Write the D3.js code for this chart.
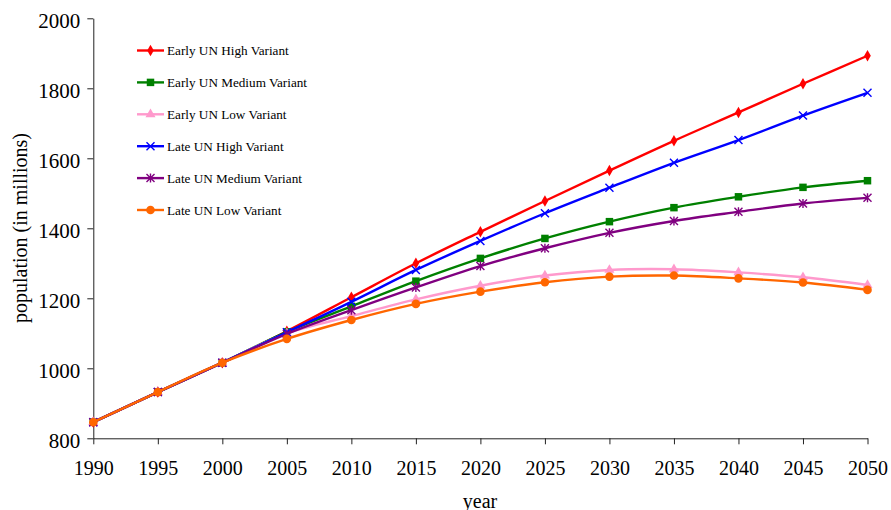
<!DOCTYPE html>
<html>
<head>
<meta charset="utf-8">
<script src="https://cdn.jsdelivr.net/npm/d3@7"></script>
<style>
  body { margin: 0; background: #fff; }
  svg { display: block; }
  text { font-family: "Liberation Serif", "Times New Roman", serif; fill: #000; }
</style>
</head>
<body>
<svg id="chart" width="891" height="510"></svg>
<script>
const years = [1990, 1995, 2000, 2005, 2010, 2015, 2020, 2025, 2030, 2035, 2040, 2045, 2050];
const earlyHigh   = [846, 932, 1016, 1106, 1203, 1300, 1390, 1478, 1565, 1650, 1731, 1813, 1893];
const earlyMedium = [846, 932, 1016, 1104, 1177, 1249, 1314, 1371, 1419, 1459, 1490, 1517, 1536];
const earlyLow    = [846, 932, 1016, 1100, 1149, 1197, 1236, 1265, 1281, 1283, 1274, 1260, 1238];
const lateHigh    = [846, 932, 1016, 1103, 1190, 1281, 1364, 1443, 1516, 1587, 1652, 1722, 1787];
const lateMedium  = [846, 932, 1016, 1098, 1166, 1231, 1292, 1343, 1387, 1421, 1447, 1471, 1487];
const lateLow     = [846, 932, 1016, 1084, 1138, 1184, 1219, 1246, 1262, 1265, 1257, 1245, 1224];
const yTicks = [800, 1000, 1200, 1400, 1600, 1800, 2000];

const series = [
  { name: 'Early UN High Variant',   values: earlyHigh,   color: '#ff0000', marker: 'diamond' },
  { name: 'Early UN Medium Variant', values: earlyMedium, color: '#008000', marker: 'square' },
  { name: 'Early UN Low Variant',    values: earlyLow,    color: '#ff99cc', marker: 'triangle' },
  { name: 'Late UN High Variant',    values: lateHigh,    color: '#0000ff', marker: 'x' },
  { name: 'Late UN Medium Variant',  values: lateMedium,  color: '#800080', marker: 'star' },
  { name: 'Late UN Low Variant',     values: lateLow,     color: '#ff6600', marker: 'circle' }
];

const svg = d3.select('#chart');

const x = d3.scaleLinear().domain([1990, 2050]).range([93.3, 867.5]);
const y = d3.scaleLinear().domain([800, 2000]).range([438.3, 18.3]);

// axes
const xAxis = svg.append('g')
  .attr('transform', `translate(0,${y(800)})`)
  .call(d3.axisBottom(x).tickValues(years).tickFormat(d3.format('d'))
    .tickSizeInner(6).tickSizeOuter(0).tickPadding(17));
xAxis.selectAll('text').style('font-size', '20px');

const yAxis = svg.append('g')
  .attr('transform', `translate(${x(1990)},0)`)
  .call(d3.axisLeft(y).tickValues(yTicks).tickFormat(d3.format('d'))
    .tickSizeInner(6).tickSizeOuter(0).tickPadding(7));
yAxis.selectAll('text').style('font-size', '21px').attr('dy', '0.42em');

svg.selectAll('.domain, .tick line').attr('stroke', '#222');

svg.append('text')
  .attr('x', 480).attr('y', 507.5)
  .attr('text-anchor', 'middle')
  .style('font-size', '20px')
  .text('year');

svg.append('text')
  .attr('transform', 'translate(27,228) rotate(-90)')
  .attr('text-anchor', 'middle')
  .style('font-size', '20px')
  .text('population (in millions)');

// markers
function drawMarker(g, type, color) {
  if (type === 'diamond') {
    g.append('path').attr('d', d3.symbol(d3.symbolDiamond, 38)()).attr('fill', color);
  } else if (type === 'square') {
    g.append('path').attr('d', d3.symbol(d3.symbolSquare, 56)()).attr('fill', color);
  } else if (type === 'triangle') {
    g.append('path').attr('d', d3.symbol(d3.symbolTriangle, 44)()).attr('fill', color);
  } else if (type === 'circle') {
    g.append('circle').attr('r', 4.3).attr('fill', color);
  } else if (type === 'x') {
    g.append('path').attr('d', 'M-4,-4L4,4M-4,4L4,-4')
      .attr('stroke', color).attr('stroke-width', 1.4).attr('fill', 'none');
  } else if (type === 'star') {
    g.append('path').attr('d', 'M-4,-4L4,4M-4,4L4,-4M0,-4.5L0,4.5')
      .attr('stroke', color).attr('stroke-width', 1.4).attr('fill', 'none');
  }
}

const line = d3.line()
  .x((d, i) => x(years[i]))
  .y(d => y(d))
  .curve(d3.curveCatmullRom.alpha(0.5));

series.forEach(s => {
  const g = svg.append('g');
  g.append('path')
    .datum(s.values)
    .attr('d', line)
    .attr('fill', 'none')
    .attr('stroke', s.color)
    .attr('stroke-width', 2.4);
  s.values.forEach((v, i) => {
    const m = g.append('g').attr('transform', `translate(${x(years[i])},${y(v)})`);
    drawMarker(m, s.marker, s.color);
  });
});

// legend
const legend = svg.append('g');
series.forEach((s, i) => {
  const ly = 50.5 + i * 31.9;
  const item = legend.append('g').attr('transform', `translate(0,${ly})`);
  item.append('line')
    .attr('x1', 137).attr('x2', 164)
    .attr('stroke', s.color).attr('stroke-width', 2.4);
  const m = item.append('g').attr('transform', 'translate(150.5,0)');
  drawMarker(m, s.marker, s.color);
  item.append('text')
    .attr('x', 167).attr('dy', '0.35em')
    .style('font-size', '13.2px')
    .text(s.name);
});
</script>
</body>
</html>
